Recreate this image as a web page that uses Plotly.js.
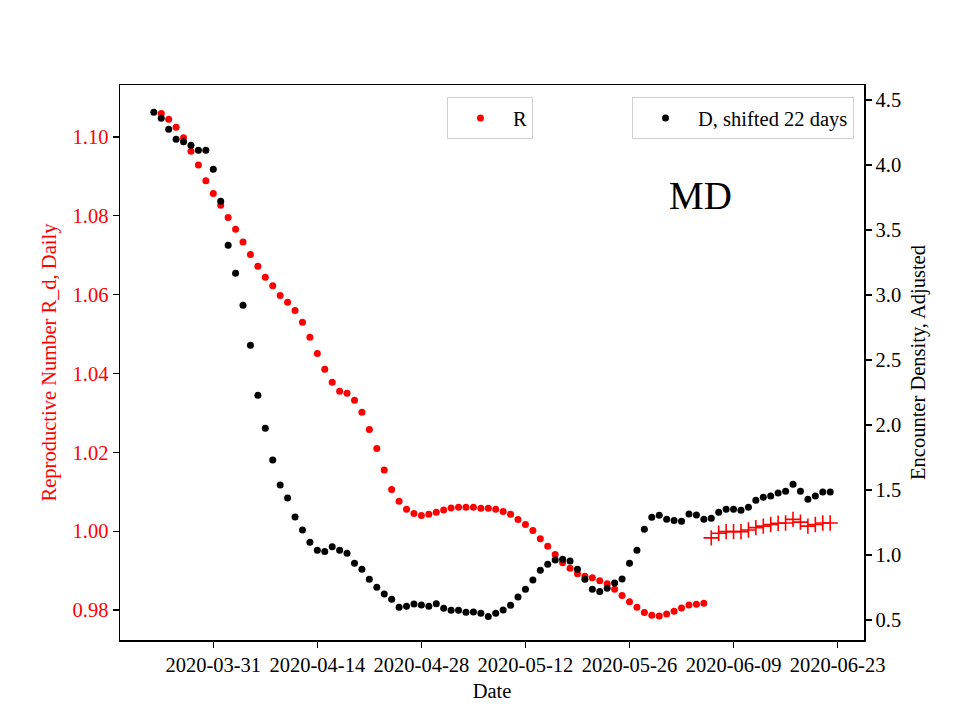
<!DOCTYPE html>
<html>
<head>
<meta charset="utf-8">
<script src="https://cdn.plot.ly/plotly-3.0.1.min.js"></script>
<style>html,body{margin:0;padding:0;background:#fff;}#chart{width:960px;height:720px;}</style>
</head>
<body>
<div id="chart"></div>
<script>
// ---- data ----
const rStart = '2020-03-24';
const rValues = [1.106,1.1045,1.1025,1.0998,1.0964,1.0929,1.0889,1.0857,
  1.0827,1.0796,1.0766,1.0734,1.0702,1.0672,1.0644,1.0623,1.0598,1.0581,1.0560,1.0530,1.0492,1.0451,1.0411,1.0378,1.0355,1.0350,1.0332,1.0302,1.0258,1.0210,1.0155,1.0106,1.0076,1.0056,1.0045,1.0040,1.0043,1.0048,
  1.0054,1.0059,1.0061,1.0061,1.0061,1.0058,1.0058,1.0056,1.0050,1.0043,1.0030,1.0017,1.0002,0.9981,0.9962,0.9941,0.9920,0.9906,0.9892,0.9886,0.9882,0.9874,0.9867,0.9853,0.9837,0.9821,0.9807,0.9794,0.9787,0.9785,0.9790,
  0.9797,0.9805,0.9813,0.9815,0.9817];
const rForecastStart = '2020-06-06';
const rForecastValues = [0.9983,0.9995,0.9999,0.9999,0.9999,1.0003,1.0009,1.0013,1.0017,1.0020,1.0021,1.0030,1.0023,1.0013,1.0017,1.0021,1.0021];
const dStart = '2020-03-23';
const dValues = [4.405,4.359,4.275,4.198,4.179,4.151,4.113,4.113,3.967,
  3.721,3.382,3.167,2.921,2.613,2.228,1.975,1.731,1.538,1.438,1.292,1.192,1.098,1.036,1.026,1.064,1.036,1.013,0.936,0.890,0.813,0.752,0.700,0.659,0.598,0.605,0.623,0.615,0.605,0.625,
  0.590,0.574,0.574,0.559,0.562,0.551,0.527,0.552,0.577,0.613,0.677,0.736,0.808,0.882,0.928,0.962,0.967,0.954,0.890,0.813,0.736,0.720,0.744,0.785,0.815,0.936,1.036,1.198,1.290,1.306,1.275,
  1.266,1.259,1.315,1.308,1.275,1.282,1.328,1.351,1.351,1.344,1.367,1.421,1.444,1.454,1.477,1.490,1.544,1.490,1.428,1.454,1.485,1.485];
const xTickVals = ['2020-03-31','2020-04-14','2020-04-28','2020-05-12','2020-05-26','2020-06-09','2020-06-23'];
const leftTicks = [0.98,1.00,1.02,1.04,1.06,1.08,1.10];
const rightTicks = [0.5,1.0,1.5,2.0,2.5,3.0,3.5,4.0,4.5];

function dailyDates(start, n) {
  const out = [];
  const d0 = new Date(start + 'T00:00:00Z');
  for (let i = 0; i < n; i++) {
    const d = new Date(d0.getTime() + i * 86400000);
    out.push(d.toISOString().slice(0, 10));
  }
  return out;
}

const FONT = '"Liberation Serif", "DejaVu Serif", "Times New Roman", serif';
const FS = 20.5;

const traces = [
  {
    x: dailyDates(rStart, rValues.length), y: rValues,
    type: 'scatter', mode: 'markers', name: 'R',
    marker: {color: '#ff0000', size: 7},
    xaxis: 'x', yaxis: 'y', legend: 'legend'
  },
  {
    x: dailyDates(rForecastStart, rForecastValues.length), y: rForecastValues,
    type: 'scatter', mode: 'markers', name: 'R forecast', showlegend: false,
    marker: {color: '#ff0000', size: 11, symbol: 'cross-thin', line: {color: '#ff0000', width: 1.6}},
    xaxis: 'x', yaxis: 'y'
  },
  {
    x: dailyDates(dStart, dValues.length), y: dValues,
    type: 'scatter', mode: 'markers', name: 'D, shifted 22 days',
    marker: {color: '#000000', size: 7},
    xaxis: 'x', yaxis: 'y2', legend: 'legend2'
  }
];

const layout = {
  width: 960, height: 720,
  margin: {l: 120, r: 96, t: 85, b: 80},
  paper_bgcolor: '#ffffff', plot_bgcolor: '#ffffff',
  font: {family: FONT, size: FS, color: '#000'},
  showlegend: true,
  xaxis: {
    type: 'date',
    range: ['2020-03-18 10:48', '2020-06-26 13:12'],
    tickvals: xTickVals, ticktext: xTickVals,
    ticks: 'outside', ticklen: 6, tickwidth: 1.2, tickcolor: '#000',
    showline: true, linecolor: '#000', linewidth: 1.5, mirror: true,
    showgrid: false, zeroline: false,
    tickfont: {family: FONT, size: FS, color: '#000'},
    title: {text: 'Date', font: {family: FONT, size: FS, color: '#000'}, standoff: 8}
  },
  yaxis: {
    range: [0.9724, 1.1132],
    tickvals: leftTicks, tickformat: '.2f',
    ticks: 'outside', ticklen: 6, tickwidth: 1.2, tickcolor: '#000',
    showline: true, linecolor: '#000', linewidth: 1.5,
    showgrid: false, zeroline: false,
    tickfont: {family: FONT, size: FS, color: '#ff0000'},
    title: {text: 'Reproductive Number R_d, Daily', font: {family: FONT, size: FS, color: '#ff0000'}, standoff: 10}
  },
  yaxis2: {
    overlaying: 'y', side: 'right', anchor: 'x',
    range: [0.346, 4.615],
    tickvals: rightTicks, tickformat: '.1f',
    ticks: 'outside', ticklen: 6, tickwidth: 1.2, tickcolor: '#000',
    showline: true, linecolor: '#000', linewidth: 1.5,
    showgrid: false, zeroline: false,
    tickfont: {family: FONT, size: FS, color: '#000'},
    title: {text: 'Encounter Density, Adjusted', font: {family: FONT, size: FS, color: '#000'}, standoff: 10}
  },
  legend: {
    x: 0.4395, y: 0.978, xanchor: 'left', yanchor: 'top',
    itemwidth: 55,
    bgcolor: '#ffffff', bordercolor: '#d0d0d0', borderwidth: 1,
    font: {family: FONT, size: FS, color: '#000'}
  },
  legend2: {
    x: 0.9866, y: 0.978, xanchor: 'right', yanchor: 'top',
    itemwidth: 55,
    bgcolor: '#ffffff', bordercolor: '#d0d0d0', borderwidth: 1,
    font: {family: FONT, size: FS, color: '#000'}
  },
  annotations: [{
    text: 'MD', xref: 'paper', yref: 'paper', x: 0.7796, y: 0.8018,
    xanchor: 'center', yanchor: 'middle', showarrow: false,
    font: {family: FONT, size: 39, color: '#000'}
  }]
};

Plotly.newPlot('chart', traces, layout, {displayModeBar: false, staticPlot: true});
</script>
</body>
</html>
